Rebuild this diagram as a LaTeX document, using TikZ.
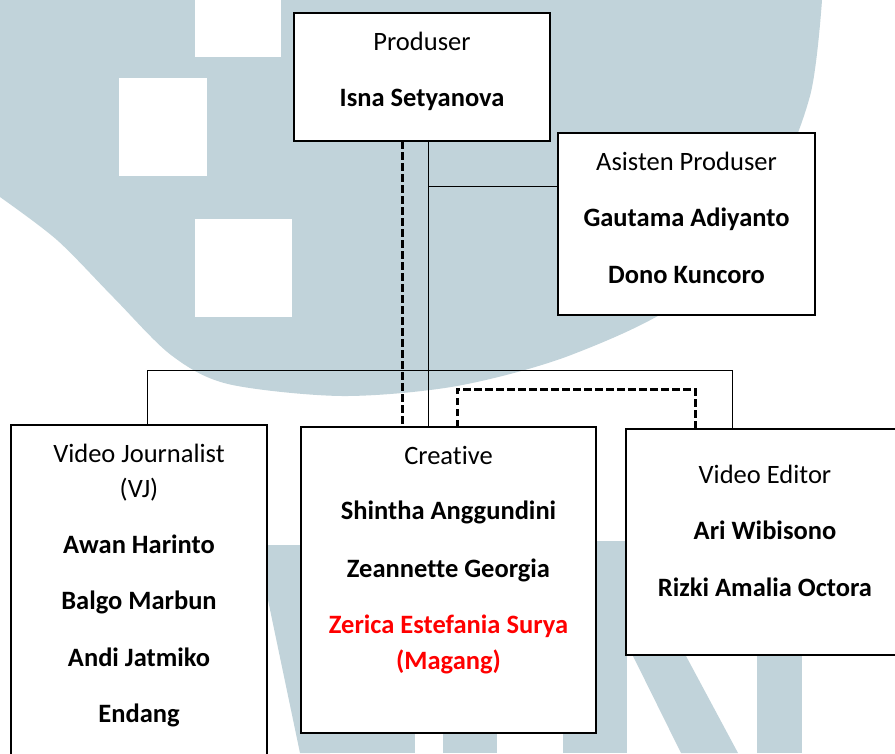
\documentclass[tikz,border=0pt]{standalone}
\usepackage{fontspec}
\setmainfont{Carlito}[Ligatures=NoCommon]
\definecolor{wm}{RGB}{193,211,218}
\definecolor{rd}{RGB}{255,0,0}
\begin{document}
\begin{tikzpicture}[x=1pt,y=-1pt,
  box/.style={draw, line width=2.4pt, fill=white, inner sep=0pt, outer sep=0pt},
  role/.style={anchor=base, inner sep=0pt, font=\fontsize{26.5}{30}\selectfont},
  person/.style={anchor=base, inner sep=0pt, font=\fontsize{26.5}{30}\selectfont\bfseries},
  link/.style={line width=1pt},
  dlink/.style={line width=3pt, dash pattern=on 7.5pt off 3.5pt}]
\useasboundingbox (0,0) rectangle (895,753);
\clip (0,0) rectangle (895,753);
\fill[white] (0,0) rectangle (895,753);
% watermark
\fill[wm] (0,0) -- plot[smooth] coordinates {(0,197) (57,240) (114,298) (171,355) (228,384) (342,396) (457,386) (571,355) (685,298) (770,192) (810,96) (822,0)} -- cycle;
\fill[white] (195,0) rectangle (281,57);
\fill[white] (119,78) rectangle (207,176);
\fill[white] (195,219) rectangle (292,317);
\fill[wm] (268,545) -- (330,545) -- (330,753) -- (300,753) -- (268,600) -- cycle;
\fill[wm] (300,700) rectangle (415,753);
\fill[wm] (443,700) rectangle (497,753);
\fill[wm] (563,541) rectangle (627,753);
\fill[wm] (633,656) -- (686,656) -- (738,753) -- (681,753) -- cycle;
\fill[wm] (757,655) rectangle (802,753);
% boxes
\node[box, minimum width=256pt, minimum height=128pt] (prod) at (422,77) {};
\node[box, minimum width=257pt, minimum height=182pt] (asst) at (686.5,224) {};
\node[box, minimum width=256pt, minimum height=360pt] (vj) at (139,605) {};
\node[box, minimum width=295pt, minimum height=306pt] (cre) at (448.5,580) {};
\node[box, minimum width=294pt, minimum height=226pt] (ve) at (773,542) {};
% connector coordinates
\coordinate (trunk) at (428,0);
\coordinate (dash) at (402,0);
\coordinate (abr) at (0,186);
\coordinate (busL) at (147,370);
\coordinate (busR) at (732,370);
\coordinate (brL) at (457,389);
\coordinate (brR) at (695,389);
% connectors
\draw[link] (trunk |- prod.south) -- (trunk |- cre.north);
\draw[link] (trunk |- abr) -- (asst.west |- abr);
\draw[link] (busL |- vj.north) -- (busL) -- (busR) -- (busR |- ve.north);
\draw[dlink] (dash |- prod.south) -- (dash |- cre.north);
\draw[dlink] (brL |- cre.north) -- (brL) -- (brR) -- (brR |- ve.north);
% texts
\node[role] (t1) at (422,50) {Produser};
\node[person] (t2) at (422,106) {Isna Setyanova};
\node[role] (t3) at (686.5,170) {Asisten Produser};
\node[person] (t4) at (686.5,226.5) {Gautama Adiyanto};
\node[person] (t5) at (686.5,283) {Dono Kuncoro};
\node[role] (t6) at (139,462) {Video Journalist};
\node[role] (t7) at (139,497) {(VJ)};
\node[person] (t8) at (139,553) {Awan Harinto};
\node[person] (t9) at (139,609) {Balgo Marbun};
\node[person] (t10) at (139,666) {Andi Jatmiko};
\node[person] (t11) at (139,722) {Endang};
\node[role] (t12) at (448.5,464) {Creative};
\node[person] (t13) at (448.5,519) {Shintha Anggundini};
\node[person] (t14) at (448.5,577) {Zeannette Georgia};
\node[person, text=rd] (t15) at (448.5,633) {Zerica Estefania Surya};
\node[person, text=rd] (t16) at (448.5,669) {(Magang)};
\node[role] (t17) at (765,483) {Video Editor};
\node[person] (t18) at (765,539) {Ari Wibisono};
\node[person] (t19) at (765,596) {Rizki Amalia Octora};
\end{tikzpicture}
\end{document}
